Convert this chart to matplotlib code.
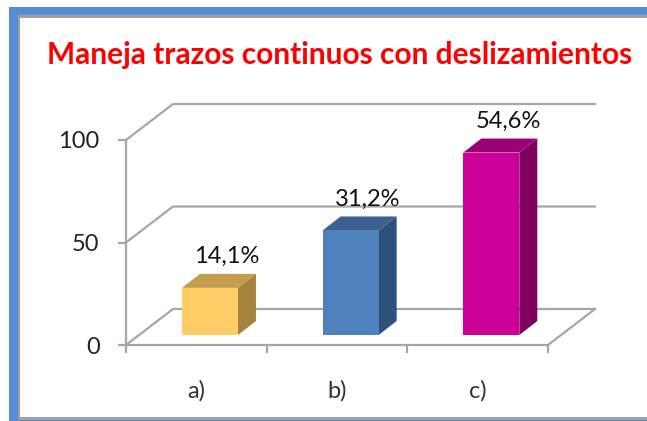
import matplotlib
matplotlib.use("Agg")
import matplotlib.pyplot as plt
from matplotlib.patches import Polygon, Rectangle

W, H = 647, 421

categories = ["a)", "b)", "c)"]
heights = [23, 51, 89]
labels = ["14,1%", "31,2%", "54,6%"]
face_cols = ["#FFCC66", "#4F81BD", "#CC0099"]
top_cols = ["#C49C4E", "#3C618F", "#9B0074"]
side_cols = ["#A5833F", "#2F5179", "#800060"]
grid_vals = [0, 50, 100]

plt.rcParams["font.family"] = ["Lato", "DejaVu Sans"]

fig = plt.figure(figsize=(W / 100, H / 100), dpi=100, facecolor="white")


def px_rect(x0, y0, x1, y1, col):
    fig.add_artist(Rectangle((x0 / W, 1 - y1 / H), (x1 - x0) / W, (y1 - y0) / H,
                             transform=fig.transFigure, facecolor=col, edgecolor="none", zorder=-1))


# blue frame, grey inner border, white inside (frame runs off the right edge)
px_rect(9, 7, 647, 421, "#558ED5")
px_rect(18, 15, 647, 420, "#A0A0A0")
px_rect(20, 18, 647, 417, "white")

ax = fig.add_axes([126 / W, 1 - 345 / H, 422 / W, 205 / H], facecolor="none")
ax.set_xlim(0, 3)
ax.set_ylim(0, 100)

# depth of the fake 3d box, in data units
dx = 47 / (422 / 3)
dy = 36 / 2.05
grey = "#A6A6A6"

for v in grid_vals:
    ax.plot([0, dx, 3 + dx], [v, v + dy, v + dy], color=grey, lw=1.6, clip_on=False, zorder=1)
ax.plot([3, 3 + dx], [0, dy], color=grey, lw=1.6, clip_on=False, zorder=1)

# bars sit part way into the floor
bar_w = 56 / (422 / 3)
bar_dx = 18 / (422 / 3)
bar_dy = 14 / 2.05
base = 10 / 2.05
for i, h in enumerate(heights):
    x0 = i + 0.597 - 0.5 * bar_w
    x1 = x0 + bar_w
    top = base + h
    ax.add_patch(Polygon([(x1, base), (x1 + bar_dx, base + bar_dy), (x1 + bar_dx, top + bar_dy), (x1, top)],
                         facecolor=side_cols[i], edgecolor="none", zorder=3, clip_on=False))
    ax.add_patch(Polygon([(x0, top), (x0 + bar_dx, top + bar_dy), (x1 + bar_dx, top + bar_dy), (x1, top)],
                         facecolor=top_cols[i], edgecolor="none", zorder=3, clip_on=False))
    ax.add_patch(Rectangle((x0, base), bar_w, h, facecolor=face_cols[i], edgecolor="none", zorder=3))
    ax.annotate(labels[i], (x0 + 0.5 * bar_w + bar_dx, top + bar_dy), xytext=(-1, 5), textcoords="offset points",
                ha="center", va="bottom", fontsize=17, color="#111111", zorder=4, annotation_clip=False)

for s in ["top", "right"]:
    ax.spines[s].set_visible(False)
for s in ["left", "bottom"]:
    ax.spines[s].set_color(grey)
    ax.spines[s].set_linewidth(1.6)

ax.set_yticks(grid_vals)
ax.set_xticks([0, 1, 2, 3])
ax.set_xticklabels([])
ax.set_xticks([0.5, 1.5, 2.5], minor=True)
ax.set_xticklabels(categories, minor=True)
ax.tick_params(axis="y", length=6, width=1.6, color=grey, pad=13, labelsize=17, labelcolor="#222222")
ax.tick_params(axis="x", which="major", length=6, width=1.6, color=grey)
ax.tick_params(axis="x", which="minor", length=0, pad=25, labelsize=17, labelcolor="#333333")

fig.text(339.5 / W, 1 - 55 / H, "Maneja trazos continuos con deslizamientos", color="#FF0000",
         fontsize=21.5, fontweight="bold", ha="center", va="center")

fig.savefig("out.png", dpi=100)
